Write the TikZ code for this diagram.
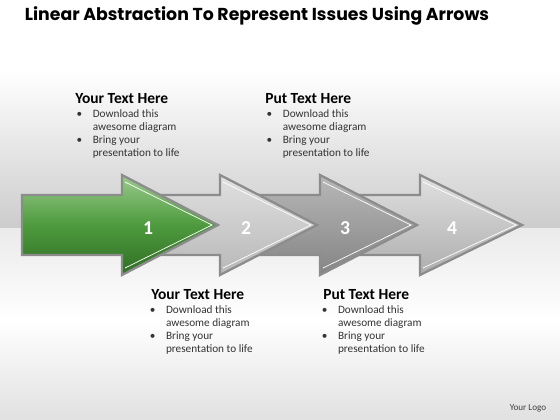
\documentclass[tikz,border=0pt]{standalone}
\usepackage{fontspec}
\setmainfont{Carlito}
\newfontfamily\titlefont{Poppins}
\usepackage{tikz}
\usetikzlibrary{positioning}
\definecolor{arrowgreen}{HTML}{4E9A3E}
\definecolor{darkgreen}{HTML}{2F6E24}
\definecolor{lightgreen}{HTML}{9ACB8C}
\definecolor{rimgray}{HTML}{8C8C8C}
\tikzstyle{arrowshape} = [draw=rimgray, line width=1.6pt, line join=miter]
\tikzstyle{rimline} = [draw=white, line width=0.5pt]
\tikzstyle{num} = [text=white, font=\bfseries\fontsize{14}{14}\selectfont]
\tikzstyle{heading} = [anchor=west, inner sep=0pt, font=\bfseries\fontsize{11}{13}\selectfont]
\tikzstyle{body} = [inner sep=0pt, text=black!80, font=\fontsize{8}{9.2}\selectfont]
\newcommand{\bulletlist}{%
  \begin{tabular}{@{}l@{\hspace{7.5pt}}l@{}}
  \textbullet & Download this\\
   & awesome diagram\\
  \textbullet & Bring your\\
   & presentation to life
  \end{tabular}}

\begin{document}
\begin{tikzpicture}[x=0.025cm, y=-0.025cm]
                % Background
                \useasboundingbox (0,0) rectangle (560,420);
                \fill[white] (0,0) rectangle (560,70);
                \fill[top color=white, bottom color=black!20] (0,70) rectangle (560,228);
                \fill[top color=black!8, bottom color=white] (0,228) rectangle (560,320);
                \fill[top color=white, bottom color=black!12] (0,320) rectangle (560,420);

                % Title
                \node[font=\titlefont\bfseries\fontsize{12.3}{15}\selectfont] (title) at (257,16) {Linear Abstraction To Represent Issues Using Arrows};

                % Arrows, back to front: start/base/tip/top/bottom colour
                \foreach \s/\b/\t/\ct/\cb in {350/420/522/black!12/black!32, 250/320/417/black!28/black!48, 150/220/317/black!12/black!28}
                {
                \draw[arrowshape, top color=\ct, bottom color=\cb]
                  (\s,195) -- (\b,195) -- (\b,175) -- (\t,225) -- (\b,275) -- (\b,255) -- (\s,255) -- cycle;
                \draw[rimline] (\b+3,182) -- (\t-6,225) -- (\b+3,268);
                }
                \draw[arrowshape, top color=lightgreen, bottom color=darkgreen, middle color=arrowgreen]
                  (22,195) -- (122,195) -- (122,175) -- (218,225) -- (122,275) -- (122,255) -- (22,255) -- cycle;
                \draw[rimline] (125,182) -- (212,225) -- (125,268);

                % Numbers
                \foreach \i/\x in {1/148,2/246,3/345,4/452}
                \node[num] (N\i) at (\x,228) {\i};

                % Text blocks
                \node[heading] (H1) at (75,99) {Your Text Here};
                \node[body, below=3pt of H1.south west, anchor=north west, xshift=1pt] (B1) {\bulletlist};
                \node[heading] (H2) at (265,99) {Put Text Here};
                \node[body, below=3pt of H2.south west, anchor=north west, xshift=1pt] (B2) {\bulletlist};
                \node[heading] (H3) at (151,295) {Your Text Here};
                \node[body, below=3pt of H3.south west, anchor=north west, xshift=-1pt] (B3) {\bulletlist};
                \node[heading] (H4) at (323,295) {Put Text Here};
                \node[body, below=3pt of H4.south west, anchor=north west, xshift=-1pt] (B4) {\bulletlist};

                % Logo
                \node[font=\fontsize{6.5}{8}\selectfont, text=black!75] (logo) at (528,408) {Your Logo};
            \end{tikzpicture}
\end{document}
